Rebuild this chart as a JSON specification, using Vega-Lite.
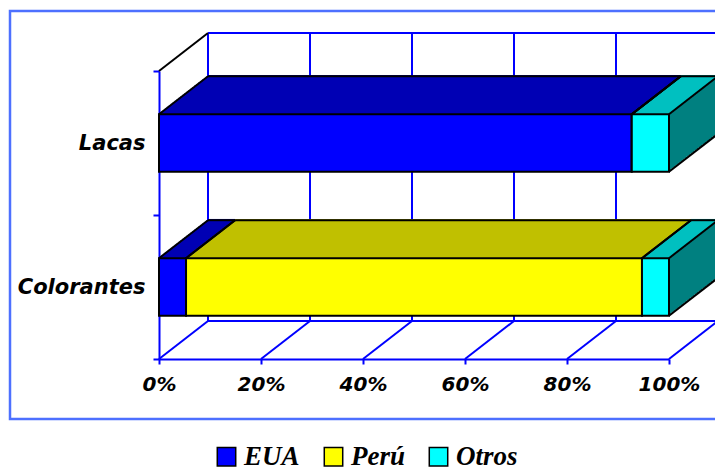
{
  "$schema": "https://vega.github.io/schema/vega-lite/v6.json",
  "width": 710,
  "height": 408,
  "autosize": "none",
  "padding": {"left": 10, "top": 11, "right": 0, "bottom": 55},
  "config": {"view": {"stroke": "#4d70ff", "strokeWidth": 2.5}},
  "datasets": {
    "shares": [
      {"product": "Lacas", "origin": "EUA", "share": 92.7},
      {"product": "Lacas", "origin": "Perú", "share": 0},
      {"product": "Lacas", "origin": "Otros", "share": 7.3},
      {"product": "Colorantes", "origin": "EUA", "share": 5.3},
      {"product": "Colorantes", "origin": "Perú", "share": 89.4},
      {"product": "Colorantes", "origin": "Otros", "share": 5.3}
    ],
    "grid": [{"v": 0}, {"v": 20}, {"v": 40}, {"v": 60}, {"v": 80}, {"v": 100}]
  },
  "layer": [
    {
      "data": {"name": "grid"},
      "mark": {"type": "rule", "color": "#0000ff", "strokeWidth": 2, "xOffset": 49, "x2Offset": 49, "yOffset": -38, "y2Offset": -38},
      "encoding": {
        "x": {"field": "v", "type": "quantitative", "title": null},
        "y": {"datum": "Lacas", "type": "nominal", "bandPosition": 0},
        "y2": {"datum": "Colorantes", "bandPosition": 1}
      }
    },
    {
      "data": {"name": "grid"},
      "mark": {"type": "rule", "color": "#0000ff", "strokeWidth": 2, "x2Offset": 49, "y2Offset": -38},
      "encoding": {
        "x": {"field": "v", "type": "quantitative", "title": null},
        "x2": {"field": "v"},
        "y": {"datum": "Colorantes", "type": "nominal", "bandPosition": 1},
        "y2": {"datum": "Colorantes", "bandPosition": 1}
      }
    },
    {
      "data": {"name": "grid"},
      "transform": [{"filter": "datum.v == 0"}],
      "layer": [
        {
          "mark": {"type": "rule", "color": "#0000ff", "strokeWidth": 2, "xOffset": 49, "x2Offset": 49, "yOffset": -38},
          "encoding": {
            "x": {"datum": 0, "type": "quantitative"},
            "x2": {"datum": 100},
            "y": {"datum": "Lacas", "type": "nominal", "bandPosition": 0}
          }
        },
        {
          "mark": {"type": "rule", "color": "#0000ff", "strokeWidth": 2, "xOffset": 49, "x2Offset": 49, "yOffset": -38},
          "encoding": {
            "x": {"datum": 0, "type": "quantitative"},
            "x2": {"datum": 100},
            "y": {"datum": "Colorantes", "type": "nominal", "bandPosition": 1}
          }
        },
        {
          "mark": {"type": "rule", "color": "black", "strokeWidth": 2, "x2Offset": 49, "y2Offset": -38},
          "encoding": {
            "x": {"datum": 0, "type": "quantitative"},
            "x2": {"datum": 0},
            "y": {"datum": "Lacas", "type": "nominal", "bandPosition": 0},
            "y2": {"datum": "Lacas", "bandPosition": 0}
          }
        }
      ]
    },
    {
      "data": {"name": "shares"},
      "transform": [{"stack": "share", "groupby": ["product"], "as": ["s0", "s1"]}],
      "resolve": {"scale": {"color": "independent"}, "legend": {"color": "independent"}},
      "encoding": {
        "y": {
          "field": "product", "type": "nominal", "title": null,
          "scale": {"domain": ["Lacas", "Colorantes"], "range": [60, 348], "paddingInner": 0, "paddingOuter": 0},
          "axis": {"orient": "left", "offset": -149, "tickBand": "extent", "domainColor": "#0000ff", "domainWidth": 2, "tickColor": "#0000ff", "tickWidth": 2, "tickSize": 6, "labelFont": "DejaVu Sans", "labelFontSize": 21, "labelFontWeight": "bold", "labelFontStyle": "italic", "labelColor": "black", "labelPadding": 8, "grid": false}
        },
        "x": {
          "field": "s0", "type": "quantitative", "title": null,
          "scale": {"domain": [0, 100], "range": [149, 659], "nice": false, "zero": false},
          "axis": {"orient": "bottom", "offset": -60, "values": [0, 20, 40, 60, 80, 100], "labelExpr": "datum.value + '%'", "grid": false, "domainColor": "#0000ff", "domainWidth": 2, "tickColor": "#0000ff", "tickWidth": 2, "tickSize": 5, "labelFont": "DejaVu Sans", "labelFontSize": 20, "labelFontWeight": "bold", "labelFontStyle": "italic", "labelColor": "black", "labelPadding": 10, "labelFlush": false, "labelOverlap": false}
        },
        "x2": {"field": "s1"}
      },
      "layer": [
        {"mark": {"type": "bar", "height": {"band": 0.4}, "color": "#008080", "xOffset": 49, "x2Offset": 49, "yOffset": -38, "y2Offset": -38}},
        {"mark": {"type": "bar", "height": {"band": 0.4}, "color": "#008080", "xOffset": 47.04, "x2Offset": 47.04, "yOffset": -36.48, "y2Offset": -36.48}},
        {"mark": {"type": "bar", "height": {"band": 0.4}, "color": "#008080", "xOffset": 45.08, "x2Offset": 45.08, "yOffset": -34.96, "y2Offset": -34.96}},
        {"mark": {"type": "bar", "height": {"band": 0.4}, "color": "#008080", "xOffset": 43.12, "x2Offset": 43.12, "yOffset": -33.44, "y2Offset": -33.44}},
        {"mark": {"type": "bar", "height": {"band": 0.4}, "color": "#008080", "xOffset": 41.16, "x2Offset": 41.16, "yOffset": -31.92, "y2Offset": -31.92}},
        {"mark": {"type": "bar", "height": {"band": 0.4}, "color": "#008080", "xOffset": 39.2, "x2Offset": 39.2, "yOffset": -30.4, "y2Offset": -30.4}},
        {"mark": {"type": "bar", "height": {"band": 0.4}, "color": "#008080", "xOffset": 37.24, "x2Offset": 37.24, "yOffset": -28.88, "y2Offset": -28.88}},
        {"mark": {"type": "bar", "height": {"band": 0.4}, "color": "#008080", "xOffset": 35.28, "x2Offset": 35.28, "yOffset": -27.36, "y2Offset": -27.36}},
        {"mark": {"type": "bar", "height": {"band": 0.4}, "color": "#008080", "xOffset": 33.32, "x2Offset": 33.32, "yOffset": -25.84, "y2Offset": -25.84}},
        {"mark": {"type": "bar", "height": {"band": 0.4}, "color": "#008080", "xOffset": 31.36, "x2Offset": 31.36, "yOffset": -24.32, "y2Offset": -24.32}},
        {"mark": {"type": "bar", "height": {"band": 0.4}, "color": "#008080", "xOffset": 29.4, "x2Offset": 29.4, "yOffset": -22.8, "y2Offset": -22.8}},
        {"mark": {"type": "bar", "height": {"band": 0.4}, "color": "#008080", "xOffset": 27.44, "x2Offset": 27.44, "yOffset": -21.28, "y2Offset": -21.28}},
        {"mark": {"type": "bar", "height": {"band": 0.4}, "color": "#008080", "xOffset": 25.48, "x2Offset": 25.48, "yOffset": -19.76, "y2Offset": -19.76}},
        {"mark": {"type": "bar", "height": {"band": 0.4}, "color": "#008080", "xOffset": 23.52, "x2Offset": 23.52, "yOffset": -18.24, "y2Offset": -18.24}},
        {"mark": {"type": "bar", "height": {"band": 0.4}, "color": "#008080", "xOffset": 21.56, "x2Offset": 21.56, "yOffset": -16.72, "y2Offset": -16.72}},
        {"mark": {"type": "bar", "height": {"band": 0.4}, "color": "#008080", "xOffset": 19.6, "x2Offset": 19.6, "yOffset": -15.2, "y2Offset": -15.2}},
        {"mark": {"type": "bar", "height": {"band": 0.4}, "color": "#008080", "xOffset": 17.64, "x2Offset": 17.64, "yOffset": -13.68, "y2Offset": -13.68}},
        {"mark": {"type": "bar", "height": {"band": 0.4}, "color": "#008080", "xOffset": 15.68, "x2Offset": 15.68, "yOffset": -12.16, "y2Offset": -12.16}},
        {"mark": {"type": "bar", "height": {"band": 0.4}, "color": "#008080", "xOffset": 13.72, "x2Offset": 13.72, "yOffset": -10.64, "y2Offset": -10.64}},
        {"mark": {"type": "bar", "height": {"band": 0.4}, "color": "#008080", "xOffset": 11.76, "x2Offset": 11.76, "yOffset": -9.12, "y2Offset": -9.12}},
        {"mark": {"type": "bar", "height": {"band": 0.4}, "color": "#008080", "xOffset": 9.8, "x2Offset": 9.8, "yOffset": -7.6, "y2Offset": -7.6}},
        {"mark": {"type": "bar", "height": {"band": 0.4}, "color": "#008080", "xOffset": 7.84, "x2Offset": 7.84, "yOffset": -6.08, "y2Offset": -6.08}},
        {"mark": {"type": "bar", "height": {"band": 0.4}, "color": "#008080", "xOffset": 5.88, "x2Offset": 5.88, "yOffset": -4.56, "y2Offset": -4.56}},
        {"mark": {"type": "bar", "height": {"band": 0.4}, "color": "#008080", "xOffset": 3.92, "x2Offset": 3.92, "yOffset": -3.04, "y2Offset": -3.04}},
        {"mark": {"type": "bar", "height": {"band": 0.4}, "color": "#008080", "xOffset": 1.96, "x2Offset": 1.96, "yOffset": -1.52, "y2Offset": -1.52}},
        {
          "encoding": {"color": {"field": "origin", "type": "nominal", "legend": null, "scale": {"domain": ["EUA", "Perú", "Otros"], "range": ["#0000b4", "#c0c000", "#00c0c0"]}}},
          "layer": [
            {"mark": {"type": "bar", "height": 2.5, "xOffset": 49, "x2Offset": 49, "yOffset": -66.8, "y2Offset": -66.8}},
            {"mark": {"type": "bar", "height": 2.5, "xOffset": 47.04, "x2Offset": 47.04, "yOffset": -65.28, "y2Offset": -65.28}},
            {"mark": {"type": "bar", "height": 2.5, "xOffset": 45.08, "x2Offset": 45.08, "yOffset": -63.76, "y2Offset": -63.76}},
            {"mark": {"type": "bar", "height": 2.5, "xOffset": 43.12, "x2Offset": 43.12, "yOffset": -62.24, "y2Offset": -62.24}},
            {"mark": {"type": "bar", "height": 2.5, "xOffset": 41.16, "x2Offset": 41.16, "yOffset": -60.72, "y2Offset": -60.72}},
            {"mark": {"type": "bar", "height": 2.5, "xOffset": 39.2, "x2Offset": 39.2, "yOffset": -59.2, "y2Offset": -59.2}},
            {"mark": {"type": "bar", "height": 2.5, "xOffset": 37.24, "x2Offset": 37.24, "yOffset": -57.68, "y2Offset": -57.68}},
            {"mark": {"type": "bar", "height": 2.5, "xOffset": 35.28, "x2Offset": 35.28, "yOffset": -56.16, "y2Offset": -56.16}},
            {"mark": {"type": "bar", "height": 2.5, "xOffset": 33.32, "x2Offset": 33.32, "yOffset": -54.64, "y2Offset": -54.64}},
            {"mark": {"type": "bar", "height": 2.5, "xOffset": 31.36, "x2Offset": 31.36, "yOffset": -53.12, "y2Offset": -53.12}},
            {"mark": {"type": "bar", "height": 2.5, "xOffset": 29.4, "x2Offset": 29.4, "yOffset": -51.6, "y2Offset": -51.6}},
            {"mark": {"type": "bar", "height": 2.5, "xOffset": 27.44, "x2Offset": 27.44, "yOffset": -50.08, "y2Offset": -50.08}},
            {"mark": {"type": "bar", "height": 2.5, "xOffset": 25.48, "x2Offset": 25.48, "yOffset": -48.56, "y2Offset": -48.56}},
            {"mark": {"type": "bar", "height": 2.5, "xOffset": 23.52, "x2Offset": 23.52, "yOffset": -47.04, "y2Offset": -47.04}},
            {"mark": {"type": "bar", "height": 2.5, "xOffset": 21.56, "x2Offset": 21.56, "yOffset": -45.52, "y2Offset": -45.52}},
            {"mark": {"type": "bar", "height": 2.5, "xOffset": 19.6, "x2Offset": 19.6, "yOffset": -44, "y2Offset": -44}},
            {"mark": {"type": "bar", "height": 2.5, "xOffset": 17.64, "x2Offset": 17.64, "yOffset": -42.48, "y2Offset": -42.48}},
            {"mark": {"type": "bar", "height": 2.5, "xOffset": 15.68, "x2Offset": 15.68, "yOffset": -40.96, "y2Offset": -40.96}},
            {"mark": {"type": "bar", "height": 2.5, "xOffset": 13.72, "x2Offset": 13.72, "yOffset": -39.44, "y2Offset": -39.44}},
            {"mark": {"type": "bar", "height": 2.5, "xOffset": 11.76, "x2Offset": 11.76, "yOffset": -37.92, "y2Offset": -37.92}},
            {"mark": {"type": "bar", "height": 2.5, "xOffset": 9.8, "x2Offset": 9.8, "yOffset": -36.4, "y2Offset": -36.4}},
            {"mark": {"type": "bar", "height": 2.5, "xOffset": 7.84, "x2Offset": 7.84, "yOffset": -34.88, "y2Offset": -34.88}},
            {"mark": {"type": "bar", "height": 2.5, "xOffset": 5.88, "x2Offset": 5.88, "yOffset": -33.36, "y2Offset": -33.36}},
            {"mark": {"type": "bar", "height": 2.5, "xOffset": 3.92, "x2Offset": 3.92, "yOffset": -31.84, "y2Offset": -31.84}},
            {"mark": {"type": "bar", "height": 2.5, "xOffset": 1.96, "x2Offset": 1.96, "yOffset": -30.32, "y2Offset": -30.32}},
            {"mark": {"type": "bar", "height": 2.5, "xOffset": 0, "x2Offset": 0, "yOffset": -28.8, "y2Offset": -28.8}}
          ]
        },
        {
          "mark": {"type": "bar", "height": {"band": 0.4}, "stroke": "black", "strokeWidth": 2},
          "encoding": {
            "color": {
              "field": "origin", "type": "nominal",
              "scale": {"domain": ["EUA", "Perú", "Otros"], "range": ["#0000ff", "#ffff00", "#00ffff"]},
              "legend": {"orient": "none", "legendX": 203, "legendY": 432, "direction": "horizontal", "title": null, "symbolType": "square", "symbolSize": 340, "symbolStrokeColor": "black", "symbolStrokeWidth": 1.5, "labelFont": "Liberation Serif", "labelFontSize": 27, "labelFontStyle": "italic", "labelFontWeight": "bold", "labelColor": "black", "columnPadding": 20, "labelOffset": 4, "padding": 0}
            }
          }
        },
        {"mark": {"type": "rule", "color": "black", "strokeWidth": 2, "xOffset": 49, "x2Offset": 49, "yOffset": -66.8, "y2Offset": -66.8}, "encoding": {}},
        {
          "mark": {"type": "rule", "color": "black", "strokeWidth": 2, "yOffset": -28.8, "y2Offset": -66.8, "x2Offset": 49},
          "encoding": {"x": {"field": "s1", "type": "quantitative"}, "x2": {"field": "s1"}, "y2": {"field": "product"}}
        },
        {
          "mark": {"type": "rule", "color": "black", "strokeWidth": 2, "yOffset": -28.8, "y2Offset": -66.8, "x2Offset": 49},
          "encoding": {"x": {"field": "s0", "type": "quantitative"}, "x2": {"field": "s0"}, "y2": {"field": "product"}}
        },
        {
          "transform": [{"filter": "datum.s1 > 99.9"}],
          "mark": {"type": "rule", "color": "black", "strokeWidth": 2, "yOffset": 28.8, "y2Offset": -9.2, "x2Offset": 49},
          "encoding": {"x": {"field": "s1", "type": "quantitative"}, "x2": {"field": "s1"}, "y2": {"field": "product"}}
        },
        {
          "transform": [{"filter": "datum.s1 > 99.9"}],
          "mark": {"type": "rule", "color": "black", "strokeWidth": 2, "xOffset": 49, "x2Offset": 49, "yOffset": -66.8, "y2Offset": -9.2},
          "encoding": {"x": {"field": "s1", "type": "quantitative"}, "x2": {"field": "s1"}, "y2": {"field": "product"}}
        }
      ]
    }
  ]
}
